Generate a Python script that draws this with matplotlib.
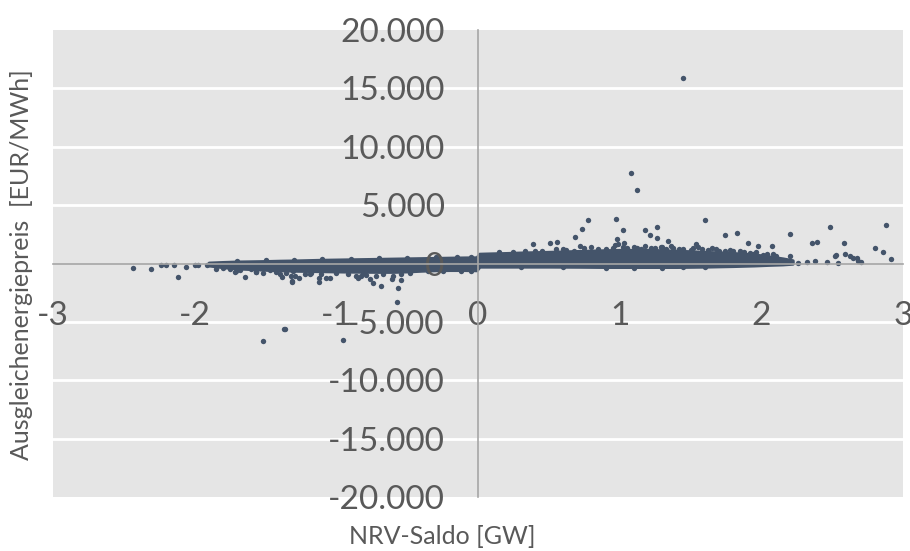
import matplotlib
matplotlib.use("Agg")
import matplotlib.pyplot as plt
from matplotlib.ticker import FixedLocator, FuncFormatter

# ---------------- data ----------------
# dense core of the point cloud: envelope of the band
band_x = [-1.90, -1.80, -1.70, -1.60, -1.50, -1.40, -1.30, -1.20, -1.10, -1.00,
          -0.90, -0.80, -0.70, -0.60, -0.50, -0.40, -0.30, -0.20, -0.10, -0.01,
          0.01, 0.10, 0.20, 0.30, 0.50, 0.70, 0.90, 1.00, 1.20, 1.40,
          1.60, 1.80, 1.95, 2.05, 2.15, 2.22]
band_lo = [-150, -300, -400, -460, -520, -560, -600, -620, -640, -660,
           -680, -690, -700, -700, -660, -600, -560, -540, -540, -560,
           -250, -250, -250, -250, -250, -260, -280, -280, -280, -280,
           -250, -200, -150, -100, -60, 0]
band_hi = [60, 110, 150, 170, 190, 220, 240, 270, 300, 320,
           340, 360, 380, 400, 420, 440, 460, 480, 500, 510,
           820, 850, 880, 920, 980, 1050, 1120, 1150, 1150, 1080,
           980, 880, 760, 600, 420, 260]

# individual points (GW, EUR/MWh)
nrv_gw = [
    # isolated points, negative side
    -2.436, -2.309, -2.236, -2.201, -2.147, -2.119, -2.064, -1.995, -1.977, -1.914,
    -1.713, -1.648, -1.568, -1.518, -1.384, -1.314, -1.365, -1.518, -1.314, -1.264,
    -1.123, -1.123, -1.047, -0.741, -0.682, -0.604, -0.546, -0.565, -0.572, -0.953,
    -1.370, -0.847, -0.823, -0.788, -1.189, -1.177,
    # lower fringe, negative side
    -1.847, -1.800, -1.753, -1.706, -1.678, -1.600, -1.565, -1.471, -1.424, -1.400,
    -1.353, -1.318, -1.306, -1.294, -1.224, -1.106, -1.071, -1.000, -0.918, -0.859,
    -0.812, -0.765, -0.718, -0.671, -0.600, -0.541, -0.482,
    -0.35, -0.25, -0.12, -0.05,
    # upper fringe, negative side
    -1.70, -1.50, -1.30, -1.10, -0.90, -0.70, -0.50, -0.30, -0.15, -0.05,
    # isolated points, positive side
    1.448, 1.083, 1.121, 0.388, 0.506, 0.559, 0.688, 0.732, 0.779, 0.977,
    1.022, 0.984, 0.987, 1.031, 1.177, 1.213, 1.260, 1.267, 1.340, 1.291,
    1.377, 1.537, 1.601, 1.744, 1.827, 1.909, 1.973, 2.072, 2.199, 2.361,
    2.390, 2.488, 2.587, 2.804, 2.860, 2.877, 2.912,
    # upper fringe / tail, positive side
    0.40, 0.55, 0.62, 0.75, 0.85, 0.95, 1.05, 1.10, 1.15, 1.25,
    1.33, 1.45, 1.50, 1.58, 1.65, 1.70, 1.78, 1.85, 1.88,
    0.15, 0.25, 0.33, 0.45, 0.60, 0.68, 0.72, 0.80, 0.90, 0.97,
    1.02, 1.12, 1.18, 1.22, 1.30, 1.36, 1.42, 1.52, 1.55, 1.62,
    1.68, 1.74, 1.80, 1.92, 1.96, 2.01, 2.10,
    1.942, 1.989, 2.037, 2.083, 2.131, 2.178, 2.202, 2.260, 2.319, 2.378,
    2.460, 2.519, 2.542, 2.589, 2.625, 2.672, 2.707, 2.524, 2.648, 2.684,
    # lower fringe, positive side
    0.30, 0.60, 0.90, 1.10, 1.30, 1.45, 1.60,
]
price_eur = [
    -360, -471, -128, -128, -128, -1130, -274, -128, -128, -128,
    -702, -1130, -753, -788, -1130, -1524, -5607, -6608, -1584, -1267,
    -1584, -1215, -1215, -1695, -1926, -1352, -1438, -2123, -3270, -6574,
    -5581, -1215, -1070, -1010, -925, -788,
    -497, -360, -445, -642, -556, -497, -702, -556, -728, -925,
    -788, -1070, -642, -1070, -925, -925, -1215, -788, -925, -1070,
    -788, -1352, -1070, -925, -1070, -925, -788,
    -680, -650, -640, -680,
    230, 280, 320, 370, 400, 440, 480, 540, 570, 580,
    15905, 7772, 6266, 1643, 1755, 1866, 2294, 2953, 3724, 3835,
    2842, 2072, 1695, 1755, 2842, 2414, 2157, 3150, 1952, 1412,
    1352, 1643, 3724, 2414, 2637, 1729, 1524, 1524, 2525, 1729,
    1866, 3150, 1729, 1301, 984, 3270, 411,
    1050, 1200, 1150, 1300, 1250, 1350, 1300, 1400, 1250, 1300,
    1200, 1250, 1150, 1200, 1300, 1100, 1150, 1050, 1000,
    950, 1000, 1050, 1100, 1250, 1100, 1500, 1400, 1200, 1550,
    1450, 1350, 1500, 1350, 1450, 1500, 1200, 1300, 1400, 1150,
    1250, 1050, 1100, 900, 1000, 750, 600,
    788, 497, 788, 788, 274, 214, 642, 68, 128, 214,
    128, 642, 68, 788, 642, 497, 128, 702, 497, 214,
    -320, -340, -360, -350, -360, -320, -300,
]

x_ticks = [-3, -2, -1, 0, 1, 2, 3]
y_ticks = [-20000, -15000, -10000, -5000, 0, 5000, 10000, 15000, 20000]
x_label = "NRV-Saldo [GW]"
y_label = "Ausgleichenergiepreis  [EUR/MWh]"

# ---------------- styling ----------------
plt.rcParams['font.family'] = ['Lato', 'DejaVu Sans']
POINT = "#44546A"
TEXT = "#595959"
AXIS = "#A6A6A6"
BG = "#E5E5E5"

fig = plt.figure(figsize=(9.10, 5.51), dpi=100)
ax = fig.add_axes([53 / 910, 1 - 497 / 551, 850 / 910, 467 / 551])
ax.set_facecolor(BG)

ax.fill_between(band_x, band_lo, band_hi, color=POINT, linewidth=2.5,
                edgecolor=POINT, zorder=1)
ax.scatter(nrv_gw, price_eur, s=15, color=POINT, linewidths=0, zorder=1)

ax.set_xlim(-3, 3)
ax.set_ylim(-20000, 20000)

for side in ("top", "right"):
    ax.spines[side].set_visible(False)
ax.spines["left"].set_position(("data", 0))
ax.spines["bottom"].set_position(("data", 0))
for side in ("left", "bottom"):
    ax.spines[side].set_color(AXIS)
    ax.spines[side].set_linewidth(1.2)

ax.xaxis.set_major_locator(FixedLocator(x_ticks))
ax.yaxis.set_major_locator(FixedLocator(y_ticks))
ax.yaxis.set_major_formatter(FuncFormatter(
    lambda v, p: f"{int(v):,}".replace(",", ".")))
ax.xaxis.set_major_formatter(FuncFormatter(lambda v, p: f"{int(v)}"))
ax.tick_params(axis="both", length=0, labelsize=24, labelcolor=TEXT)
ax.tick_params(axis="y", pad=24)
ax.tick_params(axis="x", pad=27)

for v in y_ticks:
    if v not in (0, 20000, -20000):
        ax.axhline(v, color="white", linewidth=2.0, zorder=0.5)

fig.text(442 / 910, 1 - 537 / 551, x_label, ha="center", va="center",
         fontsize=18, color=TEXT)
fig.text(22 / 910, 1 - 265 / 551, y_label, ha="center", va="center",
         rotation=90, fontsize=18, color=TEXT)

fig.savefig("out.png", dpi=100, facecolor="white")
